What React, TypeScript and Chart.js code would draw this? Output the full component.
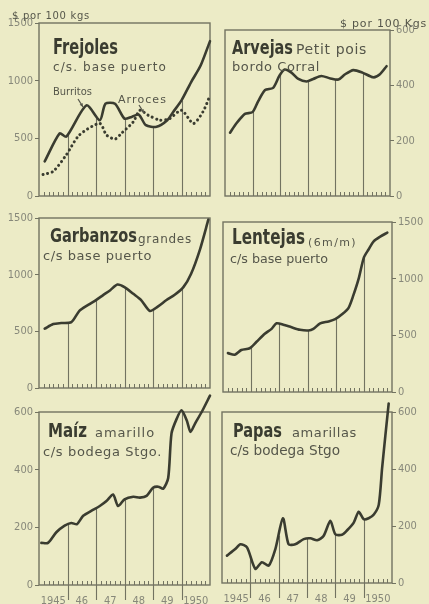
import React, { useEffect, useRef } from "react";
import { Chart, registerables } from "chart.js";

Chart.register(...registerables);

// ---------- axis labels ----------
const yearCenters = [6, 18, 30, 42, 54, 66];
const yearLabels = ["1945", "46", "47", "48", "49", "1950"];
const yearBounds = [12, 24, 36, 48, 60];
const minorTickMonths = [2, 4, 6, 8, 10, 14, 16, 18, 20, 22, 26, 28, 30, 32, 34, 38, 40, 42, 44, 46, 50, 52, 54, 56, 58, 62, 64, 66, 68, 70];
const ticks1500 = [0, 500, 1000, 1500];
const ticks600 = [0, 200, 400, 600];

// ---------- data (month index from Jan 1945, $ por 100 kgs) ----------
const frejolesBurritosMonths = [2.4, 8.7, 11.5, 20, 25.6, 28, 32, 36, 39, 42, 45, 49.5, 54, 56.5, 60, 64, 68, 72];
const frejolesBurritosValues = [300, 543, 514, 786, 657, 800, 800, 671, 686, 706, 614, 600, 657, 729, 829, 986, 1129, 1343];

const frejolesArrocesMonths = [1.7, 6, 11.5, 17, 25.6, 28.4, 32, 34.7, 39.7, 42.5, 46, 51, 55, 60, 65, 69, 72];
const frejolesArrocesValues = [186, 214, 357, 529, 629, 529, 494, 543, 643, 743, 700, 657, 671, 743, 629, 729, 871];

const arvejasMonths = [2.2, 5, 8.7, 12, 14.5, 17.5, 21, 23.7, 26, 29, 32, 35.6, 38.5, 42, 46, 49.5, 52.4, 56, 60, 64.7, 67.6, 70.5];
const arvejasValues = [229, 263, 297, 303, 343, 383, 391, 434, 457, 446, 423, 414, 423, 434, 425, 421, 440, 455, 446, 429, 440, 469];

const garbanzosMonths = [2.4, 6, 9.4, 13.6, 17, 20.7, 24, 27, 30, 33, 36, 39.7, 43, 46.7, 50, 53.7, 57, 60.8, 64, 67.8, 71.3];
const garbanzosValues = [523, 564, 573, 581, 680, 733, 776, 820, 863, 913, 890, 831, 776, 680, 718, 776, 820, 890, 1006, 1224, 1485];

const lentejasMonths = [2.1, 5, 7.8, 11.4, 14.3, 17.8, 20.7, 22.8, 25.7, 29.2, 32.8, 36.4, 38.5, 41.4, 45, 47.8, 50.7, 53.5, 55.6, 57.8, 60, 62, 64.2, 67, 70];
const lentejasValues = [343, 329, 371, 386, 443, 514, 557, 606, 594, 571, 549, 543, 557, 606, 623, 643, 686, 743, 857, 1000, 1186, 1257, 1329, 1371, 1406];

const maizMonths = [1, 3.8, 7.3, 10.8, 13.6, 16, 18.6, 22, 25.6, 28.4, 31.2, 33.3, 36, 39.7, 42.5, 45.3, 48, 50.2, 52.3, 54.4, 55.8, 58, 60, 62.2, 63.8, 65.7, 68.5, 72];
const maizValues = [146, 146, 183, 206, 215, 211, 240, 257, 274, 291, 314, 274, 297, 306, 303, 309, 337, 341, 334, 371, 526, 577, 606, 571, 531, 560, 600, 657];

const papasMonths = [2.1, 5.6, 7.8, 10.6, 14.1, 16.9, 19.8, 22.6, 25.8, 28.2, 31, 34.6, 37.4, 40.3, 43, 45.9, 48, 50.8, 53, 55.8, 57.9, 60, 62.1, 64.3, 66.4, 67.8, 69.2, 70.6];
const papasValues = [96, 119, 136, 125, 50, 73, 61, 119, 227, 136, 136, 154, 157, 150, 165, 218, 171, 169, 185, 212, 250, 224, 227, 240, 275, 402, 518, 630];

// ---------- styles ----------
const PAPER = "#ecebc6";
const INK = "#3a3c30";
const SUB = "#55564a";
const FRAME = "#727361";
const TICKTXT = "#87887a";
const FONT = "'Liberation Sans Narrow', 'DejaVu Sans Condensed', 'Roboto Condensed', 'Liberation Sans', sans-serif";
const SUBFONT = "'DejaVu Sans', 'Noto Sans', sans-serif";

type Txt = { text: string; dx: number; dy: number; size: number; w: number; weight?: string; color?: string; family?: string };
type Arrow = [number, number, number, number];
type Series = { months: number[]; values: number[]; dotted?: boolean };
type PanelProps = {
  cx: number; cy: number; cw: number; ch: number;
  box: [number, number, number, number];
  side: "left" | "right";
  yMax: number; yTicks: number[];
  series: Series[]; texts: Txt[]; arrows?: Arrow[]; showX: boolean;
};

function interp(s: Series, m: number): number {
  const ms = s.months, vs = s.values;
  if (m <= ms[0]) return vs[0];
  for (let i = 1; i < ms.length; i++) {
    if (m <= ms[i]) {
      const f = (m - ms[i - 1]) / (ms[i] - ms[i - 1]);
      return vs[i - 1] + f * (vs[i] - vs[i - 1]);
    }
  }
  return vs[vs.length - 1];
}

function Panel(p: PanelProps) {
  const ref = useRef<HTMLCanvasElement>(null);
  useEffect(() => {
    const [l, t, r, b] = p.box;
    const left = l - p.cx, top = t - p.cy, right = p.cx + p.cw - r, bottom = p.cy + p.ch - b;
    const yW = p.side === "left" ? left : right;
    const deco = {
      id: "deco",
      beforeDatasetsDraw(chart: any) {
        const { ctx, chartArea: a, scales } = chart;
        const x = scales.x, y = scales.y;
        ctx.save();
        ctx.strokeStyle = FRAME;
        ctx.lineWidth = 1.1;
        yearBounds.forEach((m) => {
          const v = interp(p.series[0], m);
          const px = Math.round(x.getPixelForValue(m)) + 0.5;
          ctx.beginPath();
          ctx.moveTo(px, y.getPixelForValue(v));
          ctx.lineTo(px, a.bottom + (p.showX ? 15 : 0));
          ctx.stroke();
        });
        ctx.lineWidth = 1;
        minorTickMonths.forEach((m) => {
          const px = Math.round(x.getPixelForValue(m)) + 0.5;
          ctx.beginPath();
          ctx.moveTo(px, a.bottom);
          ctx.lineTo(px, a.bottom - 4);
          ctx.stroke();
        });
        ctx.lineWidth = 1.4;
        ctx.strokeRect(a.left, a.top, a.right - a.left, a.bottom - a.top);
        ctx.restore();
      },
      afterDraw(chart: any) {
        const { ctx, chartArea: a } = chart;
        ctx.save();
        ctx.textBaseline = "alphabetic";
        ctx.textAlign = "left";
        p.texts.forEach((tx) => {
          ctx.font = `${tx.weight || "normal"} ${tx.size}px ${tx.family || SUBFONT}`;
          ctx.fillStyle = tx.color || SUB;
          (ctx as any).letterSpacing = "0px";
          const nat = ctx.measureText(tx.text).width;
          if (nat < tx.w) {
            (ctx as any).letterSpacing = `${(tx.w - nat) / tx.text.length}px`;
            ctx.fillText(tx.text, a.left + tx.dx, a.top + tx.dy);
          } else {
            ctx.fillText(tx.text, a.left + tx.dx, a.top + tx.dy, tx.w);
          }
        });
        (p.arrows || []).forEach(([x1, y1, x2, y2]) => {
          const X1 = a.left + x1, Y1 = a.top + y1, X2 = a.left + x2, Y2 = a.top + y2;
          ctx.strokeStyle = SUB;
          ctx.fillStyle = SUB;
          ctx.lineWidth = 1.2;
          ctx.beginPath();
          ctx.moveTo(X1, Y1);
          ctx.lineTo(X2, Y2);
          ctx.stroke();
          const ang = Math.atan2(Y2 - Y1, X2 - X1);
          ctx.beginPath();
          ctx.moveTo(X2, Y2);
          ctx.lineTo(X2 - 4 * Math.cos(ang - 0.45), Y2 - 4 * Math.sin(ang - 0.45));
          ctx.lineTo(X2 - 4 * Math.cos(ang + 0.45), Y2 - 4 * Math.sin(ang + 0.45));
          ctx.closePath();
          ctx.fill();
        });
        ctx.restore();
      },
    };
    const chart = new Chart(ref.current as HTMLCanvasElement, {
      type: "line",
      data: {
        datasets: p.series.map((s) => ({
          data: s.months.map((m, i) => ({ x: m, y: s.values[i] })),
          borderColor: INK,
          borderWidth: s.dotted ? 3 : 2.6,
          borderDash: s.dotted ? [0.1, 4.6] : [],
          borderCapStyle: "round",
          borderJoinStyle: "round",
          pointRadius: 0,
          tension: 0.25,
          clip: false,
          fill: false,
        })) as any,
      },
      options: {
        responsive: false,
        animation: false,
        devicePixelRatio: 1,
        events: [],
        layout: {
          padding: {
            left: p.side === "right" ? left : 0,
            right: p.side === "left" ? right : 0,
            top,
            bottom: p.showX ? 0 : bottom,
          },
        },
        plugins: { legend: { display: false }, tooltip: { enabled: false } },
        scales: {
          x: {
            type: "linear",
            min: 0,
            max: 72,
            display: p.showX,
            position: "bottom",
            afterBuildTicks: (s: any) => {
              s.ticks = yearCenters.map((v) => ({ value: v }));
            },
            afterFit: (s: any) => {
              s.height = bottom;
            },
            ticks: {
              autoSkip: false,
              maxRotation: 0,
              padding: 2,
              color: TICKTXT,
              font: { family: FONT, size: 11 },
              callback: (v: any) => {
                const i = yearCenters.indexOf(Number(v));
                return i >= 0 ? yearLabels[i] : "";
              },
            },
            grid: { display: false },
            border: { display: false },
          },
          y: {
            type: "linear",
            position: p.side,
            min: 0,
            max: p.yMax,
            afterBuildTicks: (s: any) => {
              s.ticks = p.yTicks.map((v) => ({ value: v }));
            },
            afterFit: (s: any) => {
              s.width = yW;
            },
            ticks: {
              padding: 2,
              color: TICKTXT,
              font: { family: FONT, size: 11 },
              callback: (v: any) => String(v),
            },
            grid: { drawOnChartArea: false, drawTicks: true, tickLength: 4, color: FRAME },
            border: { display: false },
          },
        },
      } as any,
      plugins: [deco],
    });
    return () => chart.destroy();
  }, []);
  return (
    <canvas
      ref={ref}
      width={p.cw}
      height={p.ch}
      style={{ position: "absolute", left: p.cx, top: p.cy, width: p.cw, height: p.ch }}
    />
  );
}

export default function App() {
  const T = (text: string, dx: number, dy: number, size: number, w: number, bold = false): Txt => ({
    text, dx, dy, size, w,
    weight: bold ? "bold" : "normal",
    color: bold ? INK : SUB,
    family: bold ? FONT : SUBFONT,
  });
  return (
    <div style={{ position: "absolute", left: 0, top: 0, width: 429, height: 604, background: PAPER, overflow: "hidden" }}>
      <Panel
        cx={0} cy={0} cw={215} ch={210}
        box={[39, 23, 210, 203]}
        side="left" yMax={1500} yTicks={ticks1500} showX={false}
        series={[
          { months: frejolesBurritosMonths, values: frejolesBurritosValues },
          { months: frejolesArrocesMonths, values: frejolesArrocesValues, dotted: true },
        ]}
        texts={[
          T("$ por 100 kgs", -27, -4, 10, 78),
          T("Frejoles", 14, 31, 21, 65, true),
          T("c/s. base puerto", 14, 48, 12, 114),
          T("Burritos", 14, 72, 11, 39),
          T("Arroces", 79, 80, 11, 49),
        ]}
        arrows={[[39, 76, 44, 84], [100, 82, 105, 90]]}
      />
      <Panel
        cx={215} cy={0} cw={214} ch={210}
        box={[225, 30, 390, 203]}
        side="right" yMax={600} yTicks={ticks600} showX={false}
        series={[{ months: arvejasMonths, values: arvejasValues }]}
        texts={[
          T("$ por 100 Kgs", 115, -3, 11, 87),
          T("Arvejas", 7, 24, 20, 61, true),
          T("Petit pois", 71, 24, 14, 71),
          T("bordo Corral", 7, 41, 13, 88),
        ]}
      />
      <Panel
        cx={0} cy={206} cw={215} ch={198}
        box={[39, 218, 210, 396]}
        side="left" yMax={1500} yTicks={ticks1500} showX={false}
        series={[{ months: garbanzosMonths, values: garbanzosValues }]}
        texts={[
          T("Garbanzos", 11, 24, 20, 87, true),
          T("grandes", 99, 25, 12, 54),
          T("c/s base puerto", 4, 42, 13, 109),
        ]}
      />
      <Panel
        cx={215} cy={206} cw={214} ch={198}
        box={[223, 222, 392, 398]}
        side="right" yMax={1500} yTicks={ticks1500} showX={false}
        series={[{ months: lentejasMonths, values: lentejasValues }]}
        texts={[
          T("Lentejas", 9, 22, 21, 73, true),
          T("(6m/m)", 85, 24, 11, 49),
          T("c/s base puerto", 7, 41, 13, 98),
        ]}
      />
      <Panel
        cx={0} cy={392} cw={215} ch={212}
        box={[39, 412, 210, 585]}
        side="left" yMax={600} yTicks={ticks600} showX={true}
        series={[{ months: maizMonths, values: maizValues }]}
        texts={[
          T("Maíz", 9, 25, 20, 39, true),
          T("amarillo", 56, 25, 13, 60),
          T("c/s bodega Stgo.", 4, 44, 13, 119),
        ]}
      />
      <Panel
        cx={215} cy={392} cw={214} ch={212}
        box={[222, 412, 392, 583]}
        side="right" yMax={600} yTicks={ticks600} showX={true}
        series={[{ months: papasMonths, values: papasValues }]}
        texts={[
          T("Papas", 11, 25, 20, 49, true),
          T("amarillas", 70, 25, 13, 65),
          T("c/s bodega Stgo", 8, 43, 14, 110),
        ]}
      />
    </div>
  );
}
